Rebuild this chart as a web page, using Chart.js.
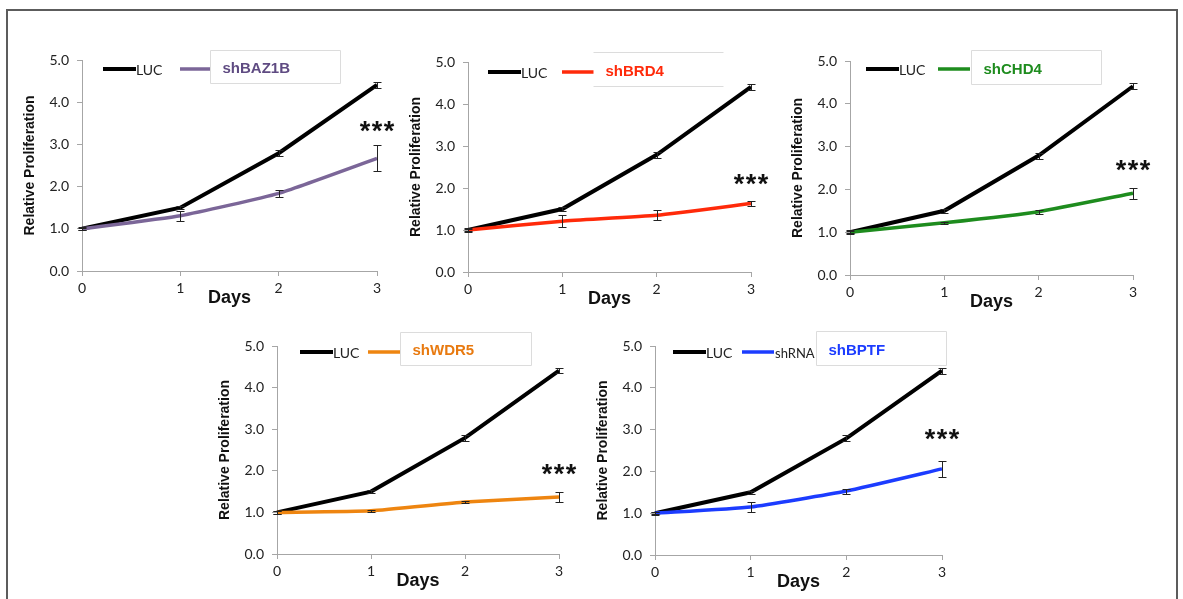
<!DOCTYPE html>
<html>
<head>
<meta charset="utf-8">
<script src="https://cdn.jsdelivr.net/npm/chart.js@4.4.0/dist/chart.umd.min.js"></script>
<style>
body { margin: 0; background: #fff; width: 1183px; height: 599px; overflow: hidden; position: relative; }
#frame { position: absolute; left: 6px; top: 9px; width: 1168px; height: 600px; border: 2px solid #5c5c5c; border-bottom: none; }
.panel { position: absolute; }
</style>
</head>
<body>
<div id="frame"></div>
<div id="panels"></div>
<script>
// Data
const days = ['0', '1', '2', '3'];
const yTicks = [0, 1, 2, 3, 4, 5];

const lucMean = [1.0, 1.5, 2.79, 4.41];
const lucErr = [0.04, 0.04, 0.07, 0.07];

const baz1bMean = [1.0, 1.31, 1.84, 2.67];
const baz1bErr = [0.03, 0.12, 0.08, 0.31];

const brd4Mean = [1.0, 1.21, 1.35, 1.63];
const brd4Err = [0.03, 0.14, 0.12, 0.05];

const chd4Mean = [1.0, 1.22, 1.48, 1.91];
const chd4Err = [0.03, 0.02, 0.05, 0.13];

const wdr5Mean = [1.0, 1.04, 1.25, 1.37];
const wdr5Err = [0.03, 0.02, 0.02, 0.12];

const bptfMean = [1.0, 1.15, 1.53, 2.06];
const bptfErr = [0.03, 0.12, 0.06, 0.19];

// height of the *** mark above day 3, per panel
const starLevel = [3.43, 2.2, 2.55, 2.04, 2.87];

// Panel setup: plot area in page pixels, legend layout relative to plot area
const panels = [
    { label: 'shBAZ1B', mean: baz1bMean, err: baz1bErr, star: starLevel[0],
      color: '#7b6698', text: '#5f4b82',
      area: { x0: 82, x1: 377, y0: 60, y1: 271 },
      leg: { lucX: 21, y: 9, shX: 98, boxX: 128, boxY: -10, boxW: 130, boxH: 33, sides: 'all' } },
    { label: 'shBRD4', mean: brd4Mean, err: brd4Err, star: starLevel[1],
      color: '#ff2a0a', text: '#ff2a0a',
      area: { x0: 468, x1: 751, y0: 62, y1: 272 },
      leg: { lucX: 20, y: 10, shX: 94, boxX: 125, boxY: -10, boxW: 130, boxH: 34, sides: 'tb' } },
    { label: 'shCHD4', mean: chd4Mean, err: chd4Err, star: starLevel[2],
      color: '#1e8c1e', text: '#1e8c1e',
      area: { x0: 850, x1: 1133, y0: 61, y1: 275 },
      leg: { lucX: 16, y: 8, shX: 88, boxX: 121, boxY: -11, boxW: 130, boxH: 34, sides: 'all' } },
    { label: 'shWDR5', mean: wdr5Mean, err: wdr5Err, star: starLevel[3],
      color: '#ee8510', text: '#e87a10',
      area: { x0: 277, x1: 559, y0: 346, y1: 554 },
      leg: { lucX: 23, y: 6, shX: 91, boxX: 123, boxY: -14, boxW: 131, boxH: 33, sides: 'all' } },
    { label: 'shBPTF', mean: bptfMean, err: bptfErr, star: starLevel[4],
      color: '#1c3cff', text: '#1c3cff', extra: 'shRNA',
      area: { x0: 655, x1: 942, y0: 346, y1: 555 },
      leg: { lucX: 18, y: 6, shX: 87, boxX: 161, boxY: -15, boxW: 130, boxH: 34, sides: 'all' } }
];

const PAD_TOP = 24, PAD_RIGHT = 24, Y_W = 70, X_H = 45;
const AXIS_GRAY = '#a6a6a6';

// error bars for every point
const errorBars = {
    id: 'errorBars',
    afterDatasetsDraw(chart) {
        const ctx = chart.ctx;
        const ys = chart.scales.y;
        ctx.save();
        ctx.strokeStyle = '#222';
        ctx.lineWidth = 1;
        chart.data.datasets.forEach((ds, i) => {
            const meta = chart.getDatasetMeta(i);
            meta.data.forEach((pt, j) => {
                const m = ds.data[j], e = ds.errors[j];
                const x = Math.round(pt.x) + 0.5;
                const yt = Math.round(ys.getPixelForValue(m + e)) + 0.5;
                const yb = Math.round(ys.getPixelForValue(m - e)) + 0.5;
                ctx.beginPath();
                ctx.moveTo(x, yt); ctx.lineTo(x, yb);
                ctx.moveTo(x - 4, yt); ctx.lineTo(x + 4, yt);
                ctx.moveTo(x - 4, yb); ctx.lineTo(x + 4, yb);
                ctx.stroke();
            });
        });
        ctx.restore();
    }
};

// legend box + *** mark
function decoPlugin(p) {
    return {
        id: 'deco',
        afterDraw(chart) {
            const ctx = chart.ctx;
            const a = chart.chartArea;
            const L = p.leg;
            const ly = a.top + L.y;
            ctx.save();

            // LUC entry
            ctx.lineWidth = 4;
            ctx.strokeStyle = '#000';
            ctx.beginPath();
            ctx.moveTo(a.left + L.lucX, ly); ctx.lineTo(a.left + L.lucX + 33, ly);
            ctx.stroke();
            ctx.fillStyle = '#222';
            ctx.font = '14px Lato';
            ctx.textBaseline = 'middle';
            ctx.fillText('LUC', a.left + L.lucX + 33, ly + 1);

            // knockdown entry
            ctx.lineWidth = 3.5;
            ctx.strokeStyle = p.color;
            ctx.beginPath();
            ctx.moveTo(a.left + L.shX, ly); ctx.lineTo(a.left + L.shX + 32, ly);
            ctx.stroke();
            if (p.extra) {
                ctx.fillStyle = '#222';
                ctx.font = '13px Lato';
                ctx.fillText(p.extra, a.left + L.shX + 33, ly + 2);
            }

            // label box
            const bx = Math.round(a.left + L.boxX) + 0.5, by = Math.round(a.top + L.boxY) + 0.5;
            ctx.fillStyle = '#fff';
            ctx.fillRect(bx, by, L.boxW, L.boxH);
            ctx.strokeStyle = '#dcdcdc';
            ctx.lineWidth = 1;
            ctx.beginPath();
            if (L.sides === 'all') {
                ctx.rect(bx, by, L.boxW, L.boxH);
            } else {
                ctx.moveTo(bx, by); ctx.lineTo(bx + L.boxW, by);
                ctx.moveTo(bx, by + L.boxH); ctx.lineTo(bx + L.boxW, by + L.boxH);
            }
            ctx.stroke();
            ctx.fillStyle = p.text;
            ctx.font = 'bold 15px "Liberation Sans"';
            ctx.fillText(p.label, bx + 12, by + L.boxH / 2 + 2);

            // significance stars
            const sx = chart.scales.x.getPixelForValue(3);
            const sy = chart.scales.y.getPixelForValue(p.star);
            ctx.fillStyle = '#111';
            ctx.font = 'bold 27px "Liberation Sans"';
            ctx.textAlign = 'center';
            [-12, 0, 12].forEach(dx => ctx.fillText('*', sx + dx, sy + 6));
            ctx.restore();
        }
    };
}

const holder = document.getElementById('panels');

panels.forEach(p => {
    const a = p.area;
    const div = document.createElement('div');
    div.className = 'panel';
    const w = a.x1 - a.x0 + Y_W + PAD_RIGHT;
    const h = a.y1 - a.y0 + PAD_TOP + X_H;
    div.style.left = (a.x0 - Y_W) + 'px';
    div.style.top = (a.y0 - PAD_TOP) + 'px';
    div.style.width = w + 'px';
    div.style.height = h + 'px';
    const canvas = document.createElement('canvas');
    canvas.width = w;
    canvas.height = h;
    div.appendChild(canvas);
    holder.appendChild(div);

    new Chart(canvas.getContext('2d'), {
        type: 'line',
        data: {
            labels: days,
            datasets: [
                { label: p.label, data: p.mean, errors: p.err, borderColor: p.color,
                  borderWidth: 3.5, pointRadius: 0, tension: 0.15, order: 0, clip: false },
                { label: 'LUC', data: lucMean, errors: lucErr, borderColor: '#000',
                  borderWidth: 4, pointRadius: 0, tension: 0, order: 1, clip: false }
            ]
        },
        options: {
            responsive: false,
            animation: false,
            events: [],
            layout: { padding: { top: PAD_TOP, right: PAD_RIGHT, left: 0, bottom: 0 } },
            plugins: {
                legend: { display: false },
                tooltip: { enabled: false }
            },
            scales: {
                x: {
                    type: 'category',
                    offset: false,
                    afterFit: s => { s.height = X_H; },
                    border: { color: AXIS_GRAY, width: 1 },
                    grid: { display: true, drawOnChartArea: false, drawTicks: true, tickLength: 5, color: AXIS_GRAY },
                    ticks: { color: '#222', font: { family: 'Lato', size: 14 }, padding: 4, maxRotation: 0 },
                    title: { display: true, text: 'Days', color: '#111',
                             font: { family: 'Liberation Sans', size: 18, weight: 'bold' },
                             padding: { top: 0, bottom: 7 } }
                },
                y: {
                    min: 0,
                    max: 5,
                    afterFit: s => { s.width = Y_W; },
                    afterBuildTicks: s => { s.ticks = yTicks.map(v => ({ value: v })); },
                    border: { color: AXIS_GRAY, width: 1 },
                    grid: { display: true, drawOnChartArea: false, drawTicks: true, tickLength: 5, color: AXIS_GRAY },
                    ticks: { color: '#222', font: { family: 'Lato', size: 14 }, padding: 8,
                             callback: v => Number(v).toFixed(1) },
                    title: { display: true, text: 'Relative Proliferation', color: '#111',
                             font: { family: 'Liberation Sans', size: 14, weight: 'bold' },
                             padding: { top: 10, bottom: 0 } }
                }
            }
        },
        plugins: [errorBars, decoPlugin(p)]
    });
});
</script>
</body>
</html>
